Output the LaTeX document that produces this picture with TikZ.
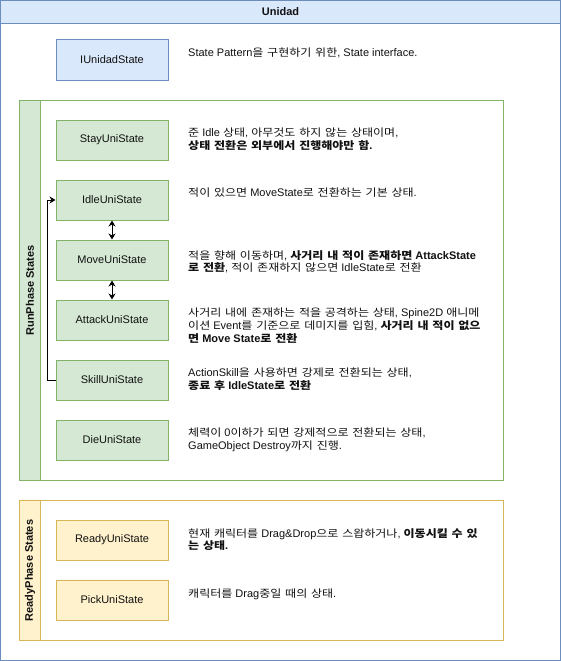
\documentclass[tikz,border=0pt]{standalone}
\usepackage{fontspec}
\setmainfont{Liberation Sans}
\newfontfamily\hangul{Noto Sans CJK KR}[Scale=0.95, FakeStretch=1.15, WordSpace=1.4]
\newcommand\hg[1]{{\hangul #1}}
\usetikzlibrary{arrows.meta}

\definecolor{blueFill}{HTML}{DAE8FC}
\definecolor{blueLine}{HTML}{6C8EBF}
\definecolor{greenFill}{HTML}{D5E8D4}
\definecolor{greenLine}{HTML}{82B366}
\definecolor{yellowFill}{HTML}{FFF2CC}
\definecolor{yellowLine}{HTML}{D6B656}
\definecolor{ink}{HTML}{111111}

\begin{document}
\begin{tikzpicture}[x=1pt,y=-1pt,
  every node/.style={text=ink},
  statebox/.style={draw, line width=1pt, minimum width=112pt, minimum height=40pt,
    inner sep=0pt, font=\fontsize{11}{13}\selectfont},
  bluebox/.style={statebox, fill=blueFill, draw=blueLine},
  greenbox/.style={statebox, fill=greenFill, draw=greenLine},
  yellowbox/.style={statebox, fill=yellowFill, draw=yellowLine},
  desc/.style={anchor=north west, inner sep=0pt, align=left,
    font=\fontsize{11}{12.8}\selectfont},
  lanetitle/.style={rotate=90, font=\fontsize{11}{13}\selectfont\bfseries},
  flow/.style={line width=1pt, >={Stealth[length=6pt,width=7pt]}}
]
\useasboundingbox (0,0) rectangle (561,661);

% outer container with its title bar
\draw[blueLine, line width=1pt, fill=white] (0.5,0.5) rectangle (560.5,660.5);
\draw[blueLine, line width=1pt, fill=blueFill] (0.5,0.5) rectangle (560.5,23.5);
\node[font=\fontsize{11}{13}\selectfont\bfseries] (title) at (280.5,12) {Unidad};

% interface
\node[bluebox] (iface) at (112,60) {IUnidadState};
\node[desc] (ifaceText) at (188,48) {State Pattern\hg{을 구현하기 위한}, State interface.};

% run phase lane
\draw[greenLine, line width=1pt] (19.5,100.5) rectangle (503.5,480.5);
\draw[greenLine, line width=1pt, fill=greenFill] (19.5,100.5) rectangle (40.5,480.5);
\node[lanetitle] (runTitle) at (30,290.5) {RunPhase States};

\node[greenbox] (stay) at (112,140) {StayUniState};
\node[greenbox] (idle) at (112,200) {IdleUniState};
\node[greenbox] (move) at (112,260) {MoveUniState};
\node[greenbox] (attack) at (112,320) {AttackUniState};
\node[greenbox] (skill) at (112,380) {SkillUniState};
\node[greenbox] (die) at (112,440) {DieUniState};

\node[desc] (stayText) at (188,128) {\hg{준} Idle \hg{상태}, \hg{아무것도 하지 않는 상태이며},\\
  \textbf{\hg{상태 전환은 외부에서 진행해야만 함}.}};
\node[desc] (idleText) at (188,188) {\hg{적이 있으면} MoveState\hg{로 전환하는 기본 상태}.};
\node[desc] (moveText) at (188,250) {\hg{적을 향해 이동하며}, \textbf{\hg{사거리 내 적이 존재하면} AttackState}\\
  \textbf{\hg{로 전환}}, \hg{적이 존재하지 않으면} IdleState\hg{로 전환}};
\node[desc] (attackText) at (188,308) {\hg{사거리 내에 존재하는 적을 공격하는 상태}, Spine2D \hg{애니메}\\
  \hg{이션} Event\hg{를 기준으로 데미지를 입힘}, \textbf{\hg{사거리 내 적이 없으}}\\
  \textbf{\hg{면} Move State\hg{로 전환}}};
\node[desc] (skillText) at (188,368) {ActionSkill\hg{을 사용하면 강제로 전환되는 상태},\\
  \textbf{\hg{종료 후} IdleState\hg{로 전환}}};
\node[desc] (dieText) at (188,428) {\hg{체력이} 0\hg{이하가 되면 강제적으로 전환되는 상태},\\
  GameObject Destroy\hg{까지 진행}.};

% transitions
\draw[flow, <->] (idle.south) -- (move.north);
\draw[flow, <->] (move.south) -- (attack.north);
\draw[flow, ->] (skill.west) -- ++(-8,0) |- (idle.west);

% ready phase lane
\draw[yellowLine, line width=1pt] (19.5,500.5) rectangle (503.5,640.5);
\draw[yellowLine, line width=1pt, fill=yellowFill] (19.5,500.5) rectangle (40.5,640.5);
\node[lanetitle] (readyTitle) at (30,570.5) {ReadyPhase States};

\node[yellowbox] (ready) at (112,540) {ReadyUniState};
\node[yellowbox] (pick) at (112,600) {PickUniState};

\node[desc] (readyText) at (188,528) {\hg{현재 캐릭터를} Drag\&Drop\hg{으로 스왑하거나}, \textbf{\hg{이동시킬 수 있}}\\
  \textbf{\hg{는 상태}.}};
\node[desc] (pickText) at (188,589) {\hg{캐릭터를} Drag\hg{중일 때의 상태}.};
\end{tikzpicture}
\end{document}
